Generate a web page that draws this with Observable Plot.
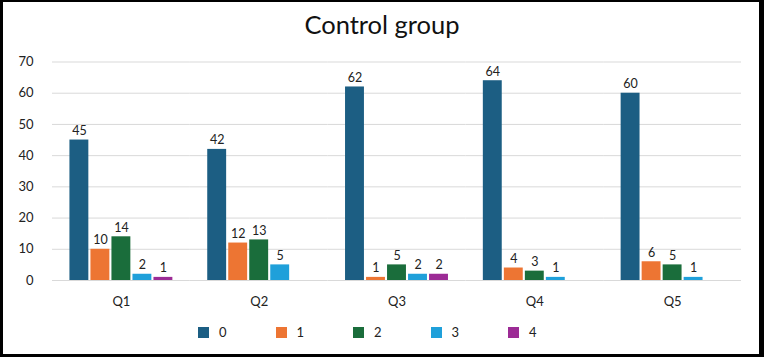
<!DOCTYPE html>
<html>
<head>
<meta charset="utf-8">
<script src="https://cdn.jsdelivr.net/npm/d3@7"></script>
<script src="https://cdn.jsdelivr.net/npm/@observablehq/plot@0.6"></script>
<style>
  html, body { margin: 0; padding: 0; background: #fff; }
  #wrap { position: relative; width: 764px; height: 357px; overflow: hidden; font-family: Lato, "Open Sans", sans-serif; background: #fff; }
  #border { position: absolute; inset: 0; border-style: solid; border-color: #000; border-width: 2px 5px 3px 3px; box-sizing: border-box; pointer-events: none; }
  #title { position: absolute; left: 0; width: 764px; top: 9px; line-height: 30px; text-align: center; font-size: 25.5px; color: #111; }
  #chart { position: absolute; left: 0; top: 40px; }
  #legend { position: absolute; left: 0; top: 324px; width: 764px; height: 16px; }
  .item { position: absolute; top: 0; font-size: 13px; color: #222; line-height: 16px; }
  .sw { position: absolute; left: 0; top: 3px; width: 11px; height: 11px; }
  .lab { position: absolute; left: 21px; top: 0; }
</style>
</head>
<body>
<div id="wrap">
  <div id="title">Control group</div>
  <div id="chart"></div>
  <div id="legend"></div>
  <div id="border"></div>
</div>
<script>
const groups = ["Q1", "Q2", "Q3", "Q4", "Q5"];
const series = ["0", "1", "2", "3", "4"];
const s0 = [45, 42, 62, 64, 60];
const s1 = [10, 12, 1, 4, 6];
const s2 = [14, 13, 5, 3, 5];
const s3 = [2, 5, 2, 1, 1];
const s4 = [1, null, 2, null, null];
const yTicks = [0, 10, 20, 30, 40, 50, 60, 70];
const colors = ["#1c5e83", "#ed7533", "#1a6d3b", "#1fa0da", "#9c2b95"];

const allSeries = [s0, s1, s2, s3, s4];
const rows = [];
groups.forEach((g, gi) => {
  series.forEach((s, si) => {
    const v = allSeries[si][gi];
    if (v != null) rows.push({group: g, series: s, value: v});
  });
});

const chart = Plot.plot({
  width: 764,
  height: 275,
  marginLeft: 52,
  marginRight: 23,
  marginTop: 21.5,
  marginBottom: 35,
  style: {fontFamily: "Lato, 'Open Sans', sans-serif", fontSize: "13px", color: "#222", background: "transparent"},
  fx: {domain: groups, padding: 0, round: false, label: null},
  x: {domain: series, paddingInner: 0.1, paddingOuter: 0.83, round: false, axis: null},
  y: {domain: [0, 70], label: null},
  color: {domain: series, range: colors},
  marks: [
    Plot.gridY(yTicks, {stroke: "#d9d9d9", strokeOpacity: 1, strokeWidth: 1}),
    Plot.axisY(yTicks, {tickSize: 0, tickPadding: 19, fontSize: 13, fill: "#222", label: null}),
    Plot.axisFx({anchor: "bottom", tickSize: 0, tickPadding: 16, fontSize: 13, fill: "#222", label: null}),
    Plot.barY(rows, {fx: "group", x: "series", y: "value", fill: "series"}),
    Plot.text(rows, {fx: "group", x: "series", y: "value", text: d => String(d.value), lineAnchor: "bottom", dy: -5, fill: "#222", fontSize: 12.5})
  ]
});
document.getElementById("chart").appendChild(chart);

const legend = document.getElementById("legend");
const legendStart = 198, legendStep = 77.5;
series.forEach((s, i) => {
  const it = document.createElement("div");
  it.className = "item";
  it.style.left = (legendStart + i * legendStep) + "px";
  const sw = document.createElement("div");
  sw.className = "sw";
  sw.style.background = colors[i];
  const lb = document.createElement("div");
  lb.className = "lab";
  lb.textContent = s;
  it.appendChild(sw); it.appendChild(lb);
  legend.appendChild(it);
});
</script>
</body>
</html>
